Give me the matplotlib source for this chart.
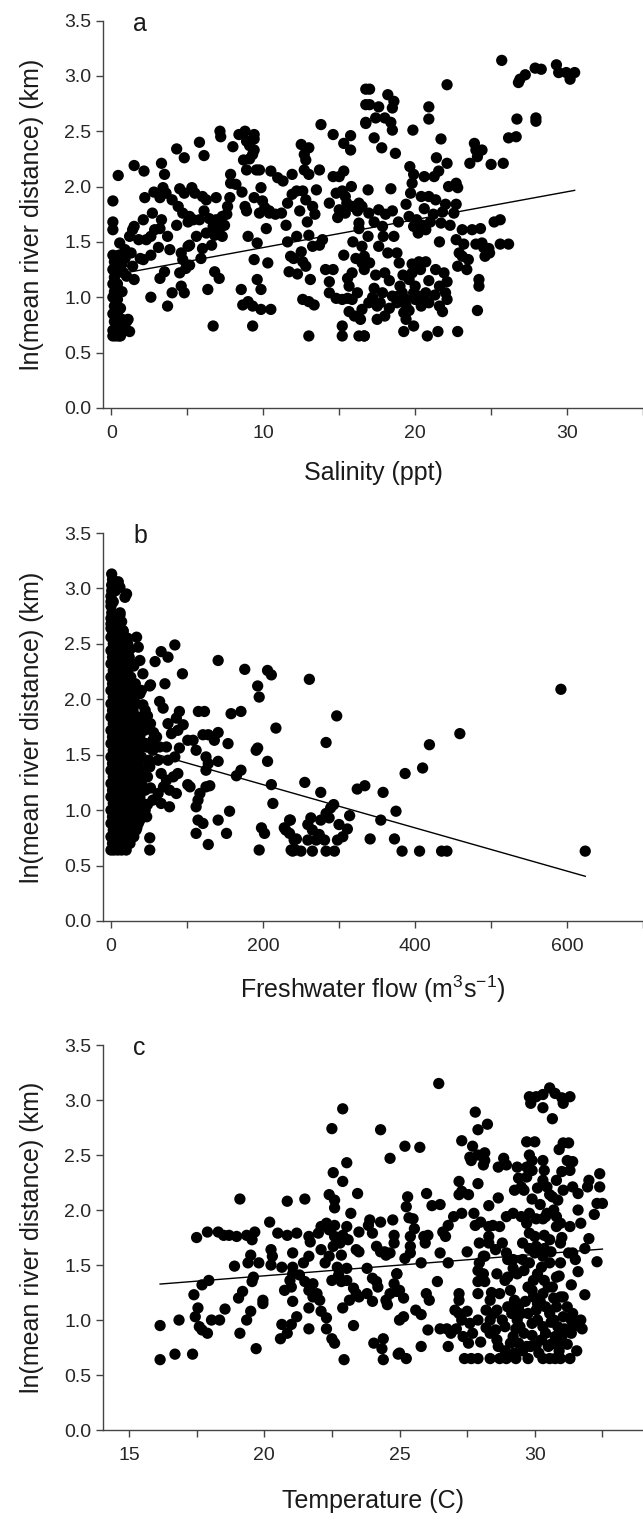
import matplotlib.pyplot as plt
import numpy as np
from matplotlib.ticker import MultipleLocator

plt.rcParams['font.family'] = ['Liberation Sans', 'DejaVu Sans']
plt.rcParams['mathtext.default'] = 'regular'

# ---- panel a: salinity (ppt), ln(mean river distance) (km)
sal_pts = [
    (0.1, 1.87), (0.1, 1.68), (0.1, 1.61), (0.55, 1.49), (0.45, 2.1), (0.9, 1.43), (1.3, 1.40), (1.9, 1.35),
    (2.1, 1.34), (1.4, 1.28), (1.0, 1.19), (1.5, 1.16), (1.1, 0.80), (1.2, 0.69), (0.7, 0.80), (0.6, 0.65),
    (1.5, 2.19), (2.15, 2.14), (1.4, 1.61), (1.5, 1.64), (2.1, 1.70), (2.3, 1.52), (2.7, 1.76), (2.6, 1.55),
    (2.2, 1.90), (3.3, 1.70), (2.85, 1.61), (3.2, 1.62), (2.6, 1.0), (3.3, 2.21), (3.5, 2.11), (3.2, 1.90),
    (3.6, 1.94), (3.4, 1.99), (3.85, 1.43), (4.0, 1.04), (3.7, 0.92), (3.5, 1.23), (3.2, 1.17), (4.3, 2.34),
    (4.8, 2.26), (5.8, 2.40), (6.1, 2.28), (4.0, 1.88), (4.4, 1.82), (4.7, 1.76), (5.15, 1.73), (4.8, 1.94),
    (5.3, 1.99), (5.5, 1.94), (5.4, 1.70), (5.8, 1.70), (5.05, 1.68), (4.3, 1.65), (4.6, 1.40), (4.7, 1.34),
    (5.15, 1.29), (4.9, 1.26), (4.5, 1.22), (4.6, 1.10), (4.8, 1.04), (5.05, 1.46), (5.15, 1.47), (6.0, 1.91),
    (6.25, 1.88), (6.1, 1.78), (6.45, 1.71), (6.7, 1.64), (6.25, 1.58), (6.0, 1.44), (6.6, 1.47), (6.8, 1.56),
    (7.1, 1.61), (7.45, 1.65), (6.9, 1.70), (7.3, 1.73), (6.9, 1.90), (7.8, 1.90), (7.65, 1.82), (7.85, 2.03),
    (7.85, 2.11), (6.35, 1.07), (6.8, 1.23), (7.1, 1.17), (7.15, 2.50), (7.2, 2.45), (6.7, 0.74), (8.0, 2.36),
    (8.4, 2.47), (8.8, 2.50), (8.9, 2.41), (9.4, 2.47), (9.4, 2.43), (9.1, 2.37), (8.7, 2.24), (9.1, 2.25),
    (9.3, 2.29), (8.9, 2.15), (9.4, 2.33), (9.75, 2.15), (9.55, 2.15), (8.8, 1.82), (8.9, 1.78), (9.0, 1.55),
    (9.4, 1.90), (9.85, 1.99), (9.95, 1.87), (10.1, 1.81), (9.75, 1.76), (10.4, 1.78), (9.6, 1.49), (9.4, 1.34),
    (10.3, 1.31), (9.6, 1.16), (9.85, 1.07), (8.55, 1.07), (8.65, 0.93), (9.0, 0.96), (9.3, 0.92), (9.85, 0.89),
    (10.5, 0.89), (9.3, 0.74), (10.5, 2.14), (10.95, 2.08), (11.3, 2.05), (11.2, 1.76), (10.4, 1.76), (11.6, 1.50),
    (11.8, 1.37), (11.7, 1.23), (12.25, 1.21), (12.0, 1.35), (11.9, 2.11), (12.5, 2.38), (12.7, 2.29), (13.0, 2.35),
    (12.8, 2.24), (12.7, 2.15), (13.0, 2.11), (12.6, 1.96), (12.4, 1.78), (12.8, 1.88), (13.25, 1.82), (13.7, 2.15),
    (12.5, 1.41), (12.6, 1.32), (12.8, 1.28), (13.1, 1.16), (13.0, 1.56), (13.25, 1.46), (13.7, 1.47), (13.9, 1.52),
    (13.8, 2.56), (12.6, 0.98), (13.0, 0.96), (13.35, 0.93), (13.0, 0.65), (14.6, 2.47), (15.3, 2.39), (15.75, 2.46),
    (15.75, 2.33), (15.3, 2.14), (15.0, 2.09), (14.6, 2.09), (14.8, 1.94), (15.2, 1.96), (14.35, 1.85), (15.0, 1.79),
    (15.4, 1.91), (15.9, 1.82), (15.4, 1.76), (16.2, 1.78), (16.5, 1.82), (14.1, 1.25), (14.6, 1.25), (14.35, 1.14),
    (14.35, 1.04), (14.8, 0.99), (15.2, 0.98), (15.55, 0.99), (15.85, 0.98), (16.2, 1.04), (15.65, 1.10), (15.55, 1.17),
    (15.85, 1.22), (15.3, 1.38), (16.1, 1.35), (16.5, 1.31), (15.65, 0.87), (16.0, 0.83), (16.4, 0.80), (15.2, 0.74),
    (15.2, 0.65), (16.65, 0.65), (16.75, 2.88), (16.75, 2.74), (16.75, 2.57), (11.9, 1.93), (12.2, 1.96), (11.6, 1.85),
    # right half
    (25.7, 3.14), (26.8, 2.94), (27.25, 3.01), (27.9, 3.07), (28.3, 3.06), (29.3, 3.10), (29.45, 3.03), (29.95, 3.03),
    (30.2, 2.97), (30.5, 3.03), (26.9, 2.97), (26.7, 2.61), (27.95, 2.62), (27.95, 2.59), (26.15, 2.44), (26.65, 2.45),
    (25.0, 2.20), (25.8, 2.21), (22.1, 2.92), (17.0, 2.88), (17.0, 2.74), (17.6, 2.72), (18.2, 2.83), (18.6, 2.77),
    (18.5, 2.71), (16.75, 2.58), (17.4, 2.62), (18.0, 2.62), (18.4, 2.58), (18.5, 2.51), (17.3, 2.44), (17.8, 2.35),
    (18.7, 2.30), (20.9, 2.72), (20.9, 2.61), (19.85, 2.51), (21.7, 2.43), (23.9, 2.39), (24.0, 2.33), (24.4, 2.33),
    (24.1, 2.27), (23.6, 2.21), (22.1, 2.21), (21.4, 2.26), (19.65, 2.18), (19.9, 2.11), (19.8, 2.03), (20.6, 2.09),
    (21.25, 2.09), (21.55, 2.14), (19.7, 1.94), (20.4, 1.91), (20.9, 1.91), (21.35, 1.88), (22.2, 2.0), (22.7, 2.03),
    (22.8, 1.99), (22.0, 1.84), (22.7, 1.84), (22.55, 1.76), (18.4, 1.98), (16.9, 1.97), (16.3, 1.85), (16.95, 1.76),
    (17.6, 1.79), (18.05, 1.75), (18.5, 1.78), (19.4, 1.84), (18.9, 1.68), (19.6, 1.73), (17.3, 1.68), (17.85, 1.64),
    (16.3, 1.67), (19.9, 1.64), (20.5, 1.65), (21.0, 1.68), (21.7, 1.67), (20.2, 1.58), (20.7, 1.61), (21.6, 1.50),
    (22.7, 1.52), (23.1, 1.61), (23.75, 1.61), (24.3, 1.62), (25.2, 1.68), (25.6, 1.70), (24.0, 1.48), (24.4, 1.49),
    (24.85, 1.44), (24.6, 1.37), (25.6, 1.48), (26.15, 1.48), (23.1, 1.37), (23.5, 1.34), (22.8, 1.28), (23.4, 1.25),
    (16.5, 1.46), (16.65, 1.37), (17.6, 1.46), (18.2, 1.40), (18.8, 1.40), (18.95, 1.31), (17.0, 1.31), (16.65, 1.25),
    (17.4, 1.20), (18.0, 1.22), (20.25, 1.32), (20.7, 1.32), (20.35, 1.25), (19.8, 1.22), (19.6, 1.16), (21.35, 1.25),
    (21.9, 1.22), (22.1, 1.14), (21.6, 1.10), (22.0, 1.04), (22.1, 0.98), (24.2, 1.16), (24.2, 1.10), (24.1, 0.88),
    (17.3, 1.08), (17.85, 1.04), (18.5, 1.01), (18.9, 1.01), (19.15, 1.04), (19.4, 0.98), (19.4, 0.92), (19.25, 0.86),
    (19.4, 0.80), (19.9, 1.04), (20.25, 1.01), (20.7, 1.04), (20.9, 0.95), (20.4, 0.92), (21.6, 0.92), (21.8, 0.87),
    (17.5, 0.92), (16.95, 0.95), (16.5, 0.89), (18.0, 0.83), (17.5, 0.80), (16.3, 0.65), (16.65, 0.65), (19.25, 0.69),
    (19.9, 0.74), (20.8, 0.65), (21.5, 0.69), (22.8, 0.69),
    # extra points in the crowded middle
    (17.2, 1.00), (17.7, 0.95), (18.3, 0.90), (18.8, 0.95), (19.6, 0.88), (20.0, 0.98), (20.6, 0.98), (19.0, 1.10),
    (18.3, 1.15), (19.8, 1.30), (20.9, 1.15), (21.3, 1.02), (20.0, 1.10), (19.2, 1.20), (17.9, 1.55), (18.6, 1.55),
    (16.9, 1.55), (20.6, 1.80), (21.2, 1.75), (20.1, 1.70), (21.8, 1.77), (22.3, 1.65), (22.9, 1.40), (23.2, 1.48),
    (24.5, 1.45), (24.9, 1.40), (15.9, 1.50), (16.3, 1.62), (14.9, 1.72), (15.5, 1.85), (15.8, 2.00), (13.5, 1.97),
    (13.4, 1.75), (12.9, 1.68), (12.2, 1.55), (11.5, 1.65), (10.2, 1.62), (10.8, 1.75), (8.6, 1.95), (8.2, 2.02),
    (7.6, 1.75), (7.3, 1.55), (5.6, 1.55), (5.9, 1.35), (3.7, 1.55), (3.1, 1.45), (2.6, 1.38), (1.8, 1.52),
    (1.2, 1.55), (2.8, 1.95), (4.5, 1.98),
    # low salinity column
    (0.1, 0.65), (0.3, 0.65), (0.5, 0.65), (0.1, 0.70), (0.4, 0.72), (0.2, 0.78), (0.1, 0.85), (0.4, 0.85),
    (0.2, 0.92), (0.1, 1.00), (0.4, 0.98), (0.2, 1.05), (0.1, 1.12), (0.4, 1.12), (0.2, 1.18), (0.1, 1.25),
    (0.4, 1.25), (0.2, 1.32), (0.1, 1.38), (0.5, 1.38), (0.3, 0.78), (0.6, 0.72), (0.6, 0.90), (0.7, 1.30),
    (0.8, 1.22), (0.9, 1.35), (1.0, 0.78), (0.9, 0.70), (0.7, 1.05),
]

# ---- panel b: freshwater flow (m3/s)
flow_pts = [
    (0.9, 3.13), (0.9, 3.03), (9.6, 3.06), (11.8, 3.01), (20.5, 2.95), (18.4, 2.92), (0, 2.93), (0, 2.84),
    (0, 2.73), (11.8, 2.76), (14, 2.70), (0, 2.64), (5.2, 2.62), (16, 2.61), (33.7, 2.56), (35.9, 2.47),
    (84, 2.49), (66, 2.43), (75, 2.38), (58, 2.34), (141, 2.35), (176, 2.27), (206, 2.26), (211, 2.22),
    (193, 2.12), (195, 2.02), (217, 1.74), (94, 2.23), (42, 2.23), (52, 2.13), (71, 2.14), (51, 2.12), (38, 2.35),
    (64, 1.98), (90, 1.89), (115, 1.89), (123, 1.89), (158, 1.87), (171, 1.89), (95, 1.77), (86, 1.83),
    (75, 1.78), (68.6, 1.92), (79.6, 1.69), (88, 1.72), (101, 1.63), (108, 1.63), (121, 1.68), (128, 1.68),
    (141, 1.70), (136, 1.63), (154, 1.60), (90, 1.56), (112, 1.54), (75, 1.45), (84, 1.48), (125, 1.48),
    (128, 1.42), (141, 1.44), (193, 1.56), (191, 1.54), (206, 1.44), (165, 1.31), (171, 1.36), (211, 1.23),
    (213, 1.06), (125, 1.36), (125, 1.21), (130, 1.22), (117, 1.15), (114.5, 1.09), (112, 1.03), (156, 0.99),
    (141, 0.91), (114.5, 0.91), (121, 0.88), (112, 0.79), (152, 0.79), (128, 0.69), (198, 0.84), (202, 0.79),
    (51, 0.75), (51, 0.64), (195, 0.64), (235, 0.91), (230, 0.82), (241, 0.73), (237, 0.64), (243, 0.64),
    (47, 1.57), (55, 1.63), (64, 1.57), (73, 1.57), (62, 1.45), (51, 1.39), (66, 1.33), (73, 1.27), (82, 1.30),
    (88, 1.33), (69, 1.21), (77, 1.18), (62, 1.15), (86, 1.15), (101, 1.23), (104, 1.21), (77, 1.03), (55, 1.09),
    (45, 1.00), (38, 0.91), (34, 0.84), (27, 0.75), (47, 0.94), (66, 1.06),
    (48, 1.05), (52, 1.20), (45, 1.30), (50, 1.45), (56, 1.70), (48, 1.85), (42, 1.95), (38, 2.05),
    (30, 2.30), (25, 2.45), (22, 2.55),
    (261, 2.18), (592, 2.09), (297, 1.85), (283, 1.61), (459, 1.69), (419, 1.59), (410, 1.38), (387, 1.33),
    (324, 1.19), (334, 1.22), (358, 1.16), (375, 0.99), (355, 0.91), (255, 1.25), (276, 1.16), (293, 1.05),
    (289, 1.02), (283, 0.97), (314, 0.95), (236, 0.91), (228, 0.84), (235, 0.79), (244, 0.74), (259, 0.87),
    (265, 0.82), (274, 0.78), (281, 0.73), (263, 0.93), (276, 0.91), (287, 0.93), (300, 0.87), (311, 0.83),
    (305, 0.76), (298, 0.73), (341, 0.74), (373, 0.74), (259, 0.73), (270, 0.73), (239, 0.63), (250, 0.63),
    (265, 0.63), (283, 0.63), (294, 0.63), (383, 0.63), (406, 0.63), (435, 0.63), (442, 0.63), (624, 0.63),
]
# dense block at low flow, read row by row (distance level -> flows)
blob_levels = [0.64, 0.70, 0.76, 0.82, 0.88, 0.94, 1.00, 1.06, 1.12, 1.18, 1.24, 1.30, 1.36, 1.42,
               1.48, 1.54, 1.60, 1.66, 1.72, 1.78, 1.84, 1.90, 1.96, 2.02, 2.08, 2.14, 2.20, 2.26,
               2.32, 2.38, 2.44, 2.50, 2.56, 2.62, 2.68, 2.78, 2.88, 2.98, 3.08]
blob_flows = [
    [0, 4, 9, 14, 20], [2, 7, 12, 25], [0, 5, 10, 16, 22, 30], [3, 8, 13, 19, 26, 33],
    [0, 5, 11, 17, 23, 29, 36], [2, 8, 14, 20, 27, 33, 40], [0, 5, 11, 17, 23, 30, 37],
    [3, 8, 14, 20, 26, 33, 42], [0, 6, 12, 18, 24, 31, 38], [2, 8, 14, 21, 27, 35, 45],
    [0, 5, 11, 17, 24, 30, 40], [3, 9, 15, 21, 28, 34, 48], [0, 6, 12, 18, 25, 32, 42],
    [2, 8, 14, 20, 27, 36, 50], [0, 5, 11, 17, 23, 30, 40], [3, 9, 15, 22, 29, 37, 55],
    [0, 6, 12, 18, 25, 33, 46], [2, 8, 14, 21, 28, 38, 60], [0, 5, 11, 17, 24, 32, 44],
    [3, 9, 15, 22, 30, 40, 52], [0, 6, 12, 18, 26, 35], [2, 8, 14, 21, 29, 45],
    [0, 5, 11, 17, 25, 33], [3, 9, 15, 22, 30], [0, 6, 12, 19, 27, 40], [2, 8, 14, 22, 32],
    [0, 5, 11, 18, 26], [3, 9, 15, 22], [0, 6, 12, 19, 28], [2, 8, 14, 24], [0, 5, 11, 18],
    [3, 9, 15, 22], [0, 6, 12], [2, 8, 16], [0, 5], [1, 12], [0, 3], [1, 6], [2],
]

# ---- panel c: temperature (C)
temp_pts = [
    (16.15, 0.64), (16.7, 0.69), (17.35, 0.69), (16.15, 0.95), (16.85, 1.0), (17.4, 1.23), (17.55, 1.11),
    (17.45, 1.03), (17.6, 0.94), (17.7, 0.91), (17.9, 0.88), (18.05, 1.0), (18.35, 1.0), (18.55, 1.10),
    (17.7, 1.32), (17.95, 1.36), (17.5, 1.75), (17.9, 1.80), (18.3, 1.80), (18.5, 1.77), (18.7, 1.77),
    (18.98, 1.76), (18.9, 1.49), (19.1, 0.88), (19.1, 2.10), (19.35, 1.77), (19.55, 1.73), (19.65, 1.80),
    (19.5, 1.59), (19.4, 1.52), (19.6, 1.39), (19.55, 1.35), (19.2, 1.26), (19.05, 1.2), (19.95, 1.18),
    (19.95, 1.15), (19.5, 1.08), (19.35, 1.0), (19.7, 0.74), (19.8, 1.52), (20.2, 1.89), (20.25, 1.64),
    (20.3, 1.58), (20.25, 1.5), (20.5, 1.79), (20.65, 1.48), (20.85, 2.08), (20.85, 1.77), (21.05, 1.48),
    (21.2, 1.79), (21.05, 1.61), (21.05, 1.42), (20.95, 1.36), (20.75, 1.27), (21.0, 1.30), (21.05, 1.17),
    (21.2, 1.03), (21.0, 0.96), (20.65, 0.96), (20.85, 0.88), (20.6, 0.83), (21.5, 2.10), (21.65, 1.76),
    (21.7, 1.71), (21.65, 1.58), (21.45, 1.52), (21.3, 1.41), (21.5, 1.35), (21.65, 1.27), (21.8, 1.33),
    (21.95, 1.24), (22.05, 1.18), (21.8, 1.21), (21.65, 1.11), (21.65, 0.92), (22.1, 1.08), (22.3, 1.02),
    (22.3, 0.92), (22.5, 0.83), (22.6, 0.79), (22.95, 0.64), (22.0, 1.79), (22.1, 1.85), (22.3, 1.88),
    (22.4, 1.82), (22.6, 1.86), (22.4, 2.14), (22.6, 2.09), (22.6, 2.02), (22.55, 2.34), (22.9, 2.26),
    (23.05, 2.43), (22.5, 2.74), (22.9, 2.92), (23.2, 1.97), (23.45, 2.15), (22.1, 1.64), (22.25, 1.52),
    (22.4, 1.58), (22.55, 1.67), (22.6, 1.76), (22.8, 1.70), (22.9, 1.77), (23.05, 1.85), (23.1, 1.73),
    (22.85, 1.59), (23.05, 1.47), (22.7, 1.48), (22.75, 1.41), (22.5, 1.36), (22.85, 1.35), (23.05, 1.36),
    (23.3, 1.29), (23.15, 1.18), (22.9, 1.11), (23.4, 1.24), (23.5, 1.21), (23.3, 0.95), (23.5, 1.80),
    (23.4, 1.64), (23.5, 1.62), (23.8, 1.47), (23.85, 1.86), (23.9, 1.91), (24.0, 1.79), (24.15, 1.67),
    (24.3, 1.62), (24.45, 1.62), (24.5, 1.59), (24.0, 1.38), (24.15, 1.35), (24.2, 1.30), (23.8, 1.24),
    (24.0, 1.17), (24.5, 1.18), (24.55, 1.14), (24.05, 0.79), (24.4, 0.83), (24.35, 0.74), (24.4, 0.64),
    (24.3, 2.73), (24.65, 2.47), (24.75, 1.91), (24.8, 1.77), (24.8, 1.70), (24.9, 1.42), (24.9, 1.26),
    (25.0, 1.0), (24.95, 0.69), (24.3, 1.89),
    # warmer half
    (26.45, 3.15), (25.2, 2.58), (25.75, 2.57), (27.8, 2.89), (27.9, 2.73), (28.25, 2.78), (27.3, 2.63),
    (27.7, 2.58), (27.6, 2.48), (27.9, 2.50), (28.15, 2.52), (28.1, 2.41), (28.15, 2.45), (27.65, 2.45),
    (27.9, 2.24), (27.2, 2.26), (27.3, 2.17), (27.55, 2.14), (27.2, 2.14), (28.65, 2.39), (28.85, 2.47),
    (28.95, 2.41), (29.35, 2.39), (29.4, 2.29), (29.5, 2.21), (29.25, 2.18), (28.65, 2.11), (28.3, 2.04),
    (27.75, 1.97), (27.3, 1.97), (27.0, 1.94), (26.8, 1.86), (26.7, 1.76), (26.6, 1.80), (26.5, 2.05),
    (26.2, 2.04), (26.0, 2.15), (25.3, 2.12), (25.25, 2.03), (25.35, 1.93), (25.5, 1.92), (25.55, 1.83),
    (25.4, 1.76), (25.4, 1.67), (25.4, 1.61), (25.2, 1.56), (25.9, 1.76), (25.95, 1.70), (26.05, 1.77),
    (25.8, 1.52), (26.5, 1.61), (26.8, 1.52), (27.5, 1.62), (27.95, 1.70), (28.3, 1.70), (28.55, 1.64),
    (28.1, 1.58), (27.8, 1.86), (28.0, 1.89), (28.3, 1.85), (28.45, 1.86), (28.7, 1.85), (28.95, 1.94),
    (29.2, 1.97), (29.5, 1.94), (29.8, 1.97), (29.7, 1.88), (30.05, 1.92), (30.3, 1.92), (30.45, 1.97),
    (30.8, 1.94), (30.95, 1.88), (30.7, 2.0), (30.8, 1.85), (29.8, 1.79), (30.0, 1.76), (30.35, 1.77),
    (30.55, 1.73), (29.55, 1.70), (29.8, 1.65), (30.05, 1.67), (30.35, 1.65), (30.95, 1.70), (31.25, 1.61),
    (31.4, 1.61), (32.0, 1.74), (31.85, 1.65), (32.3, 1.53), (29.6, 2.18), (29.7, 2.30), (29.7, 2.39),
    (29.9, 2.36), (29.9, 2.45), (30.0, 2.62), (29.7, 2.62), (29.8, 2.50), (30.3, 2.45), (30.35, 2.36),
    (30.3, 2.27), (30.45, 2.21), (30.55, 2.14), (30.8, 2.27), (31.0, 2.35), (31.2, 2.45), (31.4, 2.44),
    (31.05, 2.61), (31.25, 2.61), (31.3, 2.36), (31.4, 2.21), (31.05, 2.18), (30.85, 2.09), (30.65, 2.12),
    (30.4, 1.94), (32.0, 2.27), (31.95, 2.21), (32.4, 2.33), (32.4, 2.21), (32.3, 2.06), (32.5, 2.06),
    (29.8, 3.03), (30.05, 3.03), (30.3, 3.05), (30.55, 3.11), (30.75, 3.06), (31.0, 3.02), (31.3, 3.03),
    (29.85, 2.97), (30.3, 2.93), (30.65, 2.83), (31.05, 2.97),
    (24.65, 1.61), (24.9, 1.42), (25.0, 1.27), (25.15, 1.20), (24.65, 1.24), (25.15, 1.03), (25.6, 1.09),
    (25.8, 1.05), (25.8, 0.76), (25.99, 1.24), (26.1, 1.18), (26.4, 1.35), (25.0, 0.70), (25.25, 0.65),
    (26.05, 0.91), (26.5, 0.92), (26.75, 0.92), (26.9, 0.88), (26.8, 0.76), (27.1, 0.92), (27.3, 1.0),
    (27.35, 0.85), (27.6, 0.97), (27.9, 1.0), (27.2, 1.06), (27.2, 1.24), (27.2, 1.18), (27.05, 1.09),
    (27.55, 0.79), (27.7, 0.88), (27.4, 0.65), (27.65, 0.65), (27.9, 0.65), (28.35, 0.65), (27.9, 1.45),
    (28.1, 1.42), (27.9, 1.35), (28.15, 1.35), (27.9, 1.24), (27.95, 1.52), (28.15, 1.58), (28.35, 1.18),
    (28.2, 1.09), (28.35, 1.0), (28.5, 1.06), (28.6, 1.09), (28.8, 1.0), (28.9, 0.94), (28.65, 0.76),
    (28.7, 0.65), (28.95, 0.65), (28.55, 0.91), (28.35, 0.88), (28.7, 1.24), (28.9, 1.36), (29.0, 1.39),
    (29.1, 1.27), (29.2, 1.47), (29.35, 1.42), (29.25, 1.18), (29.4, 1.12), (29.15, 1.06), (29.35, 1.0),
    (29.5, 1.06), (29.45, 0.94), (29.6, 0.88), (29.2, 0.85), (29.1, 0.79), (29.4, 0.79), (29.25, 0.70),
    (29.3, 0.65), (29.75, 0.65), (29.7, 0.76), (29.85, 0.76), (30.05, 0.77), (29.65, 1.17), (29.75, 1.06),
    (29.9, 0.97), (30.1, 1.0), (30.05, 1.09), (29.95, 1.21), (29.75, 1.30), (29.95, 1.36), (30.1, 1.42),
    (30.25, 1.48), (30.35, 1.36), (30.3, 1.24), (30.2, 1.17), (30.4, 1.12), (30.55, 1.06), (30.3, 0.94),
    (30.4, 0.88), (30.25, 0.82), (30.5, 0.76), (30.3, 0.65), (30.55, 0.65), (30.75, 0.65), (30.95, 0.65),
    (31.3, 0.65), (30.75, 0.85), (30.85, 0.94), (31.0, 0.85), (30.85, 0.79), (30.7, 1.0), (30.8, 1.12),
    (31.05, 1.03), (31.35, 1.0), (31.4, 1.06), (31.35, 0.92), (31.35, 0.88), (30.65, 1.30), (30.8, 1.39),
    (30.95, 1.52), (30.55, 1.52), (30.95, 1.21), (31.05, 1.21), (31.35, 1.32), (31.6, 1.44), (31.85, 1.23),
    (29.8, 1.52), (29.55, 1.55), (30.0, 1.61), (28.95, 1.61), (29.2, 1.55), (28.3, 1.76), (28.8, 1.70),
    (24.8, 1.33),
    # extra points in the crowded warm corner
    (28.6, 0.82), (28.9, 0.72), (29.0, 1.12), (29.3, 0.92), (29.55, 0.72), (29.9, 0.86), (30.15, 0.70),
    (30.6, 0.78), (30.9, 0.72), (31.2, 0.78), (31.1, 0.92), (30.6, 0.98), (30.1, 1.15), (29.9, 1.27),
    (30.5, 1.30), (30.7, 1.20), (31.2, 1.12), (31.5, 0.95), (31.55, 0.72), (28.4, 1.25), (28.6, 1.42),
    (28.0, 0.80), (28.2, 0.93), (27.5, 1.08), (29.6, 1.45), (30.9, 1.40), (31.5, 1.55), (31.7, 1.00),
    (31.75, 0.92), (29.0, 1.55), (30.3, 1.58), (30.6, 1.62), (31.0, 1.75), (31.3, 1.85), (31.6, 2.00),
    (31.7, 1.88), (32.2, 1.96), (31.6, 2.15), (30.9, 2.55), (30.1, 2.20), (29.9, 2.10), (30.2, 2.05),
]

# regression lines: (intercept, slope)
fit_a = (1.197, 0.0252)
fit_b = (1.620, -0.00195)
fit_c = (1.013, 0.01945)

# flatten the dense block of panel b
blob_pts = [(f, lev) for lev, row in zip(blob_levels, blob_flows) for f in row]

panels = [
    ('a', sal_pts, fit_a, 'Salinity (ppt)', (-0.55, 35), 10, 5, 0.7320, 0.2545, 14),
    ('b', flow_pts + blob_pts, fit_b, 'Freshwater flow (m$^3$s$^{-1}$)', (-10.5, 700), 200, 100, 0.3949, 0.2549, 14),
    ('c', temp_pts, fit_c, 'Temperature (C)', (14.04, 34), 5, 2.5, 0.0604, 0.2530, 18),
]

fig = plt.figure(figsize=(6.43, 15.22), dpi=100)
dark = '#1a1a1a'

for letter, pts, fit, xlab, xlim, major, minor, bottom, height, lpad in panels:
    ax = fig.add_axes([0.1602, bottom, 0.8398, height])
    x, y = np.array(pts, dtype=float).T

    # fitted line, drawn under the points
    xl = np.array([x.min(), x.max()])
    ax.plot(xl, fit[0] + fit[1] * xl, color='black', lw=1.0, zorder=1)
    ax.scatter(x, y, s=66, color='black', edgecolors='none', zorder=2)

    ax.set_xlim(*xlim)
    ax.set_ylim(0, 3.5)
    ax.xaxis.set_major_locator(MultipleLocator(major))
    ax.xaxis.set_minor_locator(MultipleLocator(minor))
    ax.yaxis.set_major_locator(MultipleLocator(0.5))
    ax.yaxis.set_major_formatter(plt.FormatStrFormatter('%.1f'))
    ax.tick_params(which='both', direction='out', length=5, width=1, color='#444444',
                   labelsize=14, labelcolor='#262626')
    ax.tick_params(axis='x', pad=7)
    for side in ['top', 'right']:
        ax.spines[side].set_visible(False)
    for side in ['left', 'bottom']:
        ax.spines[side].set_color('#444444')
        ax.spines[side].set_linewidth(1.0)

    ax.set_ylabel('ln(mean river distance) (km)', fontsize=18, color=dark)
    ax.yaxis.set_label_coords(-0.109, 0.5)
    ax.set_xlabel(xlab, fontsize=18, color=dark, labelpad=lpad)
    ax.text(0.056, 3.47, letter, fontsize=18, color=dark, va='center',
            transform=ax.get_yaxis_transform())

fig.savefig('out.png', dpi=100)
